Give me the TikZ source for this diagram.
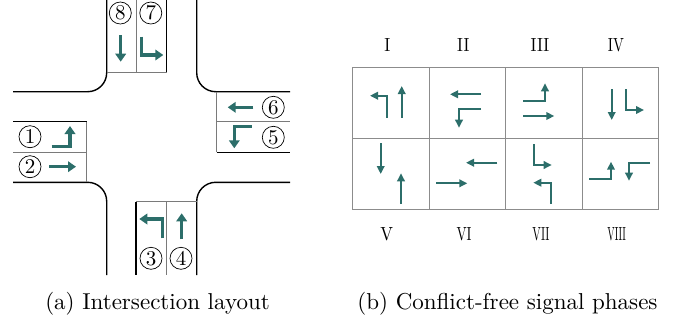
\documentclass[tikz,border=0pt]{standalone}
\usepackage{fontspec}
\setmainfont{lmroman10-regular}[Extension=.otf]
\usepackage{graphicx}
\usetikzlibrary{arrows.meta}
\definecolor{arr}{HTML}{2C6E6A}
\definecolor{lanegray}{HTML}{7A7A7A}
\definecolor{gridgray}{HTML}{8C8C8C}
\tikzset{
  road/.style={line width=1.4pt, black},
  lane/.style={line width=0.7pt, lanegray},
  gridline/.style={line width=0.8pt, gridgray},
  bigarrow/.style={arr, line width=3.3pt, line join=miter, -{Triangle[length=8pt,width=10.5pt]}},
  smallarrow/.style={arr, line width=2pt, line join=miter, -{Triangle[length=8pt,width=7.5pt]}},
  circnum/.style={circle, draw, line width=0.7pt, minimum size=22pt, inner sep=0pt, font=\fontsize{21}{21}\selectfont},
  roman/.style={font=\fontsize{19}{19}\selectfont, anchor=base, inner sep=0pt},
  captext/.style={font=\fontsize{23}{27}\selectfont, anchor=base, inner sep=0pt}
}
\begin{document}
\begin{tikzpicture}[x=1pt, y=-1pt]
\useasboundingbox (0,0) rectangle (678,322);

% ---------- (a) intersection layout ----------
% road edges
\draw[road, rounded corners=19pt] (106.7,0) -- (106.7,91.7) -- (13,91.7);
\draw[road, rounded corners=19pt] (196.7,0) -- (196.7,91.7) -- (290,91.7);
\draw[road, rounded corners=19pt] (13,182.3) -- (106.7,182.3) -- (106.7,275);
\draw[road, rounded corners=19pt] (290,182.3) -- (196.7,182.3) -- (196.7,275);
% medians
\draw[road] (166.7,0) -- (166.7,72.3);
\draw[road] (13,121.7) -- (86.7,121.7);
\draw[road] (216.7,152.3) -- (290,152.3);
\draw[road] (136,201.7) -- (136,275);
% lane dividers and stop lines
\draw[lane] (136.7,0) -- (136.7,72.3);
\draw[lane] (106.7,72.3) -- (166.7,72.3);
\draw[lane] (13,152.3) -- (86.7,152.3);
\draw[lane] (86.7,121.7) -- (86.7,182.3);
\draw[lane] (216.7,121.7) -- (290,121.7);
\draw[lane] (216.7,91.7) -- (216.7,152.3);
\draw[lane] (166.7,201.7) -- (166.7,275);
\draw[lane] (136,201.7) -- (196.7,201.7);

% lane numbers
\node[circnum] (n8) at (120.3,13) {8};
\node[circnum] (n7) at (150.8,13) {7};
\node[circnum] (n1) at (30,136.7) {1};
\node[circnum] (n2) at (30,166.7) {2};
\node[circnum] (n6) at (273.3,107.3) {6};
\node[circnum] (n5) at (273.3,137.3) {5};
\node[circnum] (n3) at (151,258.3) {3};
\node[circnum] (n4) at (181,258.3) {4};

% lane arrows
\draw[bigarrow] (120.7,35) -- (120.7,61.7);
\draw[bigarrow] (141.7,36.7) -- (141.7,55) -- (163.3,55);
\draw[bigarrow] (51.7,146.7) -- (70,146.7) -- (70,126);
\draw[bigarrow] (49.3,166.7) -- (76,166.7);
\draw[bigarrow] (253.3,107.3) -- (227.7,107.3);
\draw[bigarrow] (251.7,126.7) -- (234.3,126.7) -- (234.3,148.3);
\draw[bigarrow] (162.3,238.3) -- (162.3,219) -- (139.3,219);
\draw[bigarrow] (181.7,239.3) -- (181.7,213.3);

% ---------- (b) signal phases ----------
\draw[gridline] (352.3,67.3) rectangle (658.3,209);
\draw[gridline] (429,67.3) -- (429,209);
\draw[gridline] (505.7,67.3) -- (505.7,209);
\draw[gridline] (582.3,67.3) -- (582.3,209);
\draw[gridline] (352.3,138.3) -- (658.3,138.3);

\node[roman] (p1) at (387.3,51.7) {\scalebox{0.87}[1]{I}};
\node[roman] (p2) at (463.3,51.7) {\scalebox{0.85}[1]{II}};
\node[roman] (p3) at (540,51.7) {\scalebox{0.86}[1]{III}};
\node[roman] (p4) at (616,51.7) {\scalebox{0.76}[1]{IV}};
\node[roman] (p5) at (386.7,240.7) {\scalebox{0.89}[1]{V}};
\node[roman] (p6) at (464,240.7) {\scalebox{0.71}[1]{VI}};
\node[roman] (p7) at (541,240.7) {\scalebox{0.6}[1]{VII}};
\node[roman] (p8) at (616.7,240.7) {\scalebox{0.52}[1]{VIII}};

% phase I
\draw[smallarrow] (386.7,117.7) -- (386.7,95.7) -- (370,95.7);
\draw[smallarrow] (401.7,117.7) -- (401.7,86);
% phase II
\draw[smallarrow] (481,94.3) -- (450,94.3);
\draw[smallarrow] (481,109.3) -- (459,109.3) -- (459,127.7);
% phase III
\draw[smallarrow] (523.3,100.7) -- (545,100.7) -- (545,83.3);
\draw[smallarrow] (523.3,116) -- (554.3,116);
% phase IV
\draw[smallarrow] (611.7,89) -- (611.7,120);
\draw[smallarrow] (625.7,89) -- (625.7,110) -- (644,110);
% phase V
\draw[smallarrow] (380.7,143.3) -- (380.7,174);
\draw[smallarrow] (401,204) -- (401,173.3);
% phase VI
\draw[smallarrow] (497.3,162.7) -- (466,162.7);
\draw[smallarrow] (436,183.3) -- (467.3,183.3);
% phase VII
\draw[smallarrow] (534,144) -- (534,165) -- (551.7,165);
\draw[smallarrow] (550.7,204) -- (550.7,182.7) -- (533.3,182.7);
% phase VIII
\draw[smallarrow] (589.3,179.3) -- (611,179.3) -- (611,161.7);
\draw[smallarrow] (650,163.3) -- (629,163.3) -- (629,180.7);

% captions
\node[captext] (capa) at (157.5,309) {(a) Intersection layout};
\node[captext] (capb) at (507.5,309) {(b) Conflict-free signal phases};
\end{tikzpicture}
\end{document}
